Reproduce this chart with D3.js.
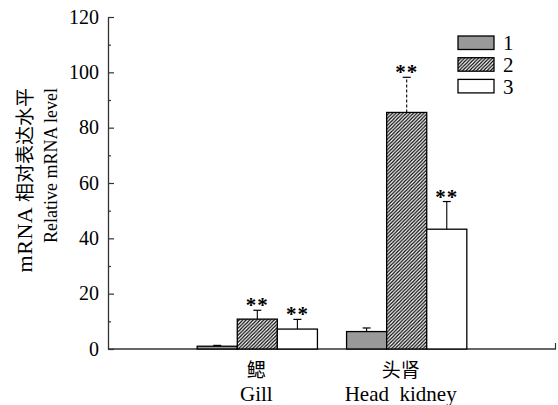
<!DOCTYPE html>
<html>
<head>
<meta charset="utf-8">
<script src="https://cdn.jsdelivr.net/npm/d3@7"></script>
<style>
body { margin: 0; background: #fff; }
text { font-family: "Liberation Serif", "Times New Roman", serif; fill: #000; }
</style>
</head>
<body>
<svg id="chart" width="558" height="405"></svg>
<script>
var groups = ['鳃|Gill', '头肾|Head  kidney'];
var series = ['1', '2', '3'];
var values = [[1.0, 10.8, 7.2], [6.3, 85.5, 43.3]];
var errors = [[0.3, 3.2, 3.5], [1.3, 12.7, 10.0]];
var stars = [['', '**', '**'], ['', '**', '**']];
var yTicks = [0, 20, 40, 60, 80, 100, 120];

var svg = d3.select('#chart');
var AXIS = '#333';

var defs = svg.append('defs');
var pat = defs.append('pattern')
    .attr('id', 'hatch')
    .attr('patternUnits', 'userSpaceOnUse')
    .attr('width', 3.5)
    .attr('height', 3.5);
pat.append('rect').attr('width', 3.5).attr('height', 3.5).attr('fill', '#fff');
pat.append('path')
    .attr('d', 'M-1,1 l2,-2 M0,3.5 l3.5,-3.5 M2.5,4.5 l2,-2')
    .attr('stroke', '#000')
    .attr('stroke-width', 1.2);

var fills = ['#999999', 'url(#hatch)', '#ffffff'];

var y = d3.scaleLinear().domain([0, 120]).range([349, 17]);
var x0 = d3.scaleBand().domain(groups).range([108, 556])
    .paddingInner(0.195).paddingOuter(0.597);
var x1 = d3.scaleBand().domain(series).range([0, x0.bandwidth()]);

// y axis
var yAxis = d3.axisRight(y).tickValues(d3.range(0, 121, 10))
    .tickSize(0).tickFormat('');
var ya = svg.append('g').attr('transform', 'translate(108,0)').call(yAxis);
ya.select('.domain').attr('stroke', AXIS).attr('stroke-width', 1.3);
ya.selectAll('.tick line')
    .attr('x2', function (d) { return d % 20 == 0 ? 6 : 3; })
    .attr('stroke', AXIS).attr('stroke-width', 1.2);
svg.append('g').selectAll('text')
    .data(yTicks)
    .enter()
    .append('text')
    .attr('x', 99)
    .attr('y', function (d) { return y(d); })
    .attr('dy', '0.34em')
    .attr('text-anchor', 'end')
    .style('font-size', '20px')
    .text(function (d) { return d; });

// x axis
svg.append('line')
    .attr('x1', 108).attr('x2', 556)
    .attr('y1', y(0)).attr('y2', y(0))
    .attr('stroke', AXIS).attr('stroke-width', 1.3);
svg.append('line')
    .attr('x1', 555.5).attr('x2', 555.5)
    .attr('y1', y(0)).attr('y2', y(0) - 6)
    .attr('stroke', AXIS).attr('stroke-width', 1.2);

// bars
var rows = [];
groups.forEach(function (g, gi) {
    series.forEach(function (s, si) {
        rows.push({ g: g, s: s, si: si, v: values[gi][si], e: errors[gi][si], star: stars[gi][si], dashed: gi == 1 && si == 1 });
    });
});

var bars = svg.append('g').selectAll('g')
    .data(rows)
    .enter()
    .append('g')
    .attr('transform', function (d) { return 'translate(' + (x0(d.g) + x1(d.s)) + ',0)'; });

bars.append('rect')
    .attr('x', 0)
    .attr('y', function (d) { return y(d.v); })
    .attr('width', x1.bandwidth())
    .attr('height', function (d) { return y(0) - y(d.v); })
    .attr('fill', function (d) { return fills[d.si]; })
    .attr('stroke', '#000')
    .attr('stroke-width', 1.3);

var cx = x1.bandwidth() / 2;
bars.append('line')
    .attr('x1', cx).attr('x2', cx)
    .attr('y1', function (d) { return y(d.v); })
    .attr('y2', function (d) { return y(d.v + d.e); })
    .attr('stroke', '#000')
    .attr('stroke-width', 1.1)
    .attr('stroke-dasharray', function (d) { return d.dashed ? '3,2' : null; });
bars.append('line')
    .attr('x1', cx - 4).attr('x2', cx + 4)
    .attr('y1', function (d) { return y(d.v + d.e); })
    .attr('y2', function (d) { return y(d.v + d.e); })
    .attr('stroke', '#000')
    .attr('stroke-width', 1.2);
bars.append('text')
    .attr('x', cx)
    .attr('y', function (d) { return y(d.v + d.e) + 2; })
    .attr('text-anchor', 'middle')
    .style('font-size', '21px')
    .style('font-weight', 'bold')
    .style('letter-spacing', '1px')
    .text(function (d) { return d.star; });

// category labels (second one sits a little left of its group centre)
var labelX = function (d, i) { return x0(d) + x0.bandwidth() / 2 - (i == 1 ? 6 : 1); };
var cat = svg.append('g').selectAll('text')
    .data(groups)
    .enter()
    .append('text')
    .attr('text-anchor', 'middle')
    .attr('x', labelX);
cat.append('tspan')
    .attr('y', 377)
    .style('font-family', '"Noto Sans CJK SC"')
    .style('font-size', '19px')
    .text(function (d) { return d.split('|')[0]; });
cat.append('tspan')
    .attr('x', labelX)
    .attr('y', 401)
    .style('font-size', '21px')
    .style('white-space', 'pre')
    .attr('xml:space', 'preserve')
    .text(function (d) { return d.split('|')[1]; });

// y title
var t1 = svg.append('text')
    .attr('transform', 'translate(32,88) rotate(-90)')
    .attr('text-anchor', 'end')
    .style('font-size', '22px');
t1.append('tspan').style('letter-spacing', '0.5px').text('mRNA ');
t1.append('tspan').style('font-family', '"Noto Sans CJK SC"').style('font-size', '19px').text('相对表达水平');
svg.append('text')
    .attr('transform', 'translate(57,88) rotate(-90)')
    .attr('text-anchor', 'end')
    .style('font-size', '18px')
    .text('Relative mRNA level');

// legend
var lg = svg.append('g').selectAll('g')
    .data(series)
    .enter()
    .append('g')
    .attr('transform', function (d, i) { return 'translate(458,' + (36 + i * 21.7) + ')'; });
lg.append('rect')
    .attr('width', 36).attr('height', 13.5)
    .attr('fill', function (d, i) { return fills[i]; })
    .attr('stroke', '#000')
    .attr('stroke-width', 1.3);
lg.append('text')
    .attr('x', 45).attr('y', 7)
    .attr('dy', '0.35em')
    .style('font-size', '21px')
    .text(function (d) { return d; });
</script>
</body>
</html>
